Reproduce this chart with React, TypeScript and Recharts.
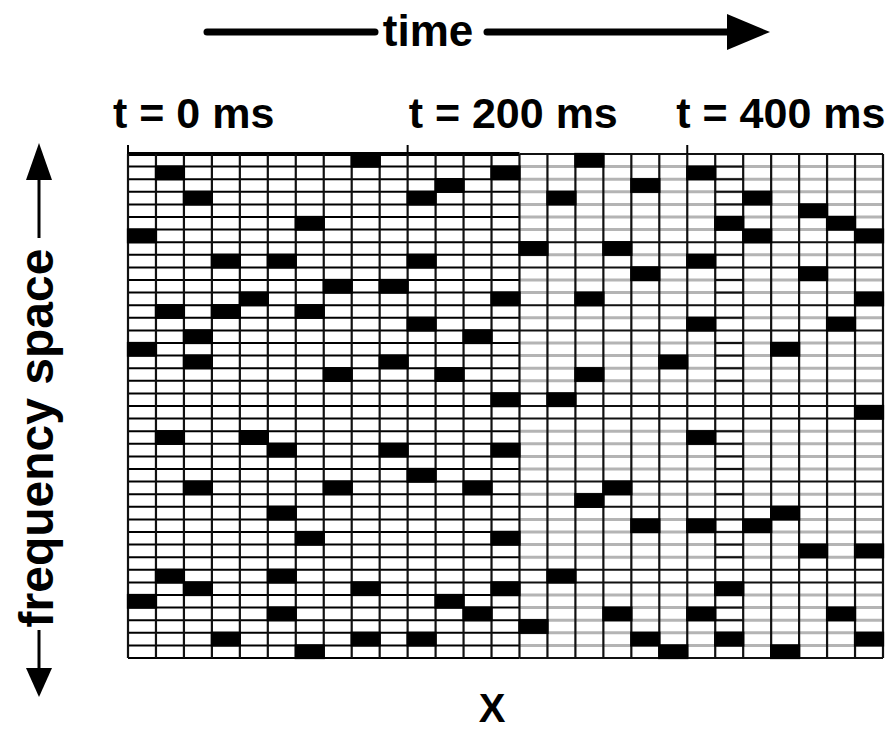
import React from 'react';
import { ComposedChart, XAxis, YAxis, ReferenceLine, ReferenceArea } from 'recharts';

// grid size: 27 time slots (20 ms each) x 40 frequency channels
const columnCount = 27;
const rowCount = 40;
const splitColumn = 14; // right of this the row lines are drawn gray
const solidColumn = 21; // this slot keeps black row lines

const timeTicks = [0, 10, 20];
const timeLabels = ['t = 0 ms', 't = 200 ms', 't = 400 ms'];

// occupied channel (row, 0 = top) for every time slot
const hopRows: number[][] = [
  [6, 15, 35],
  [1, 12, 22, 33],
  [3, 14, 16, 26, 34],
  [8, 12, 38],
  [11, 22],
  [8, 23, 28, 33, 36],
  [5, 12, 30, 39],
  [10, 17, 26],
  [0, 34, 38],
  [10, 16, 23],
  [3, 8, 13, 25, 38],
  [2, 17, 35],
  [14, 26, 36],
  [1, 11, 19, 23, 30, 34],
  [7, 37],
  [3, 19, 33],
  [0, 11, 17, 27],
  [7, 26, 36],
  [2, 9, 29, 38],
  [16, 39],
  [1, 8, 13, 22, 29, 36],
  [5, 34, 38],
  [3, 6, 29],
  [15, 28, 39],
  [4, 9, 31],
  [5, 13, 36],
  [6, 11, 20, 31, 38],
];

// row boundaries that stay black in the gray (right) part
const darkRowLines = [7, 9, 12, 14, 19, 20, 21, 26, 28, 33, 34];

const cells = hopRows.flatMap((rows, col) => rows.map((row) => ({ col, row })));
const rowLines = Array.from({ length: rowCount + 1 }, (_, i) => i);
const colLines = Array.from({ length: columnCount + 1 }, (_, i) => i);

const W = 885;
const H = 733;
const FONT = '"Liberation Sans", Arial, sans-serif';
const tickShift = [-15, 1, -11];

const TimeTick = (props: any) => {
  const { x, y, payload } = props;
  const i = timeTicks.indexOf(payload.value);
  return (
    <text
      x={x + tickShift[i]}
      y={y - 15}
      textAnchor="start"
      fontFamily={FONT}
      fontWeight="bold"
      fontSize={43}
      fill="#000"
    >
      {timeLabels[i]}
    </text>
  );
};

const Annotations = () => (
  <svg
    width={W}
    height={H}
    style={{ position: 'absolute', left: 0, top: 0, pointerEvents: 'none' }}
  >
    {/* time arrow */}
    <line x1={207} y1={32} x2={375} y2={32} stroke="#000" strokeWidth={7} strokeLinecap="round" />
    <line x1={487} y1={32} x2={733} y2={32} stroke="#000" strokeWidth={7} strokeLinecap="round" />
    <polygon points="727,14 770,32 727,50" fill="#000" />
    <text x={428} y={46} textAnchor="middle" fontFamily={FONT} fontWeight="bold" fontSize={44}>
      time
    </text>

    {/* frequency arrow */}
    <polygon points="39,143 26,180 52,180" fill="#000" />
    <line x1={39} y1={176} x2={39} y2={238} stroke="#000" strokeWidth={3} />
    <line x1={39} y1={630} x2={39} y2={672} stroke="#000" strokeWidth={3} />
    <polygon points="26,668 52,668 39,697" fill="#000" />
    <text
      x={53}
      y={438}
      transform="rotate(-90, 53, 438)"
      textAnchor="middle"
      fontFamily={FONT}
      fontWeight="bold"
      fontSize={48}
    >
      frequency space
    </text>

    <text x={492} y={722} textAnchor="middle" fontFamily={FONT} fontWeight="bold" fontSize={40}>
      X
    </text>
  </svg>
);

export default function App() {
  return (
    <div style={{ position: 'fixed', left: 0, top: 0, width: W, height: H, background: '#fff' }}>
      <ComposedChart
        width={W}
        height={H}
        data={cells}
        margin={{ top: 114, right: 2, bottom: 75, left: 128 }}
      >
        <XAxis type="number" dataKey="col" domain={[0, columnCount]} allowDataOverflow hide />
        <XAxis
          xAxisId="time"
          orientation="top"
          type="number"
          dataKey="col"
          domain={[0, columnCount]}
          allowDataOverflow
          ticks={timeTicks}
          interval={0}
          height={40}
          tickSize={9}
          axisLine={false}
          tickLine={{ stroke: '#000', strokeWidth: 2 }}
          tick={<TimeTick />}
        />
        <YAxis type="number" dataKey="row" domain={[0, rowCount]} reversed allowDataOverflow hide />

        {/* row lines, left part black */}
        {rowLines.map((r) => (
          <ReferenceLine
            key={`l${r}`}
            segment={[{ x: 0, y: r }, { x: splitColumn, y: r }]}
            stroke="#000"
            strokeWidth={r === 0 ? 4 : 2}
            zIndex={1}
          />
        ))}
        {/* row lines, right part gray except a few */}
        {rowLines.map((r) => {
          const dark = r === 0 || r === rowCount || darkRowLines.includes(r);
          return (
            <ReferenceLine
              key={`r${r}`}
              segment={[{ x: splitColumn, y: r }, { x: columnCount, y: r }]}
              stroke={dark ? '#111' : '#b4b4b4'}
              strokeWidth={dark ? 2 : 3}
              zIndex={1}
            />
          );
        })}
        {rowLines
          .filter((r) => !darkRowLines.includes(r))
          .map((r) => (
            <ReferenceLine
              key={`s${r}`}
              segment={[{ x: solidColumn, y: r }, { x: solidColumn + 1, y: r }]}
              stroke="#111"
              strokeWidth={2}
              zIndex={1}
            />
          ))}
        {colLines.map((c) => (
          <ReferenceLine
            key={`c${c}`}
            segment={[{ x: c, y: 0 }, { x: c, y: rowCount }]}
            stroke="#111"
            strokeWidth={2.2}
            zIndex={1}
          />
        ))}

        {cells.map((d) => (
          <ReferenceArea
            key={`a${d.col}-${d.row}`}
            x1={d.col - 0.04}
            x2={d.col + 1.04}
            y1={d.row - 0.09}
            y2={d.row + 1.09}
            fill="#000"
            fillOpacity={1}
            stroke="none"
            ifOverflow="visible"
            zIndex={2}
          />
        ))}
      </ComposedChart>
      <Annotations />
    </div>
  );
}
